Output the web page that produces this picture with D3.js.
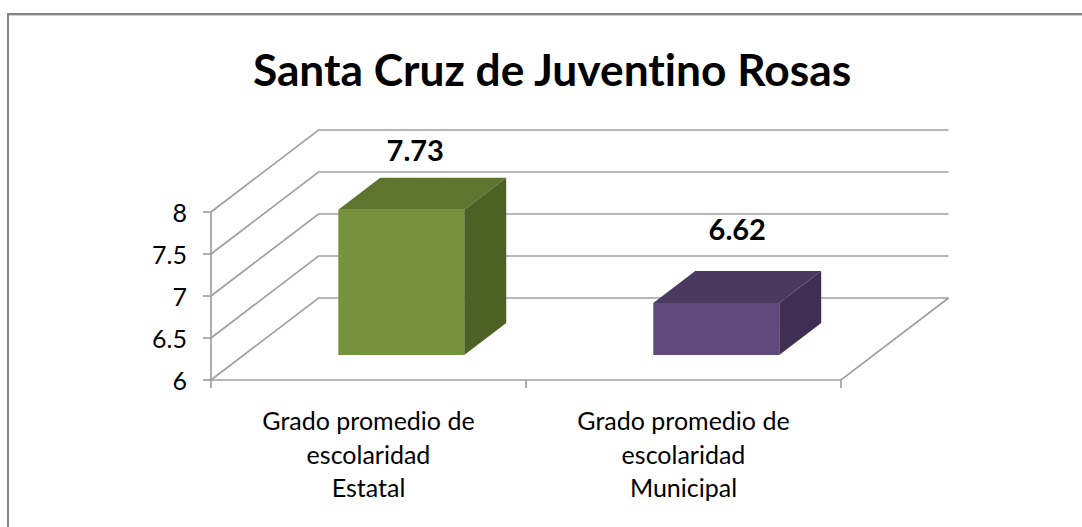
<!DOCTYPE html>
<html>
<head>
<meta charset="utf-8">
<script src="https://cdn.jsdelivr.net/npm/d3@7"></script>
<style>
  html, body { margin: 0; padding: 0; background: #fff; }
  svg { display: block; }
  text { font-family: Lato, "Open Sans", sans-serif; fill: #000; font-variant-ligatures: none; }
</style>
</head>
<body>
<div id="chart"></div>
<script>
const title = "Santa Cruz de Juventino Rosas";
const categories = ["Estatal", "Municipal"];
const categoryLines = ["Grado promedio de", "escolaridad"];
const values = [7.73, 6.62];
const yTicks = [6, 6.5, 7, 7.5, 8];
const frontColors = ["#76923c", "#604a7b"];
const topColors = ["#5e742f", "#4a3a5f"];
const sideColors = ["#4d6125", "#3f3053"];

const svg = d3.select("#chart").append("svg")
    .attr("width", 1082)
    .attr("height", 527);

// outer frame: only the top and left edges show in the picture
svg.append("path")
    .attr("d", d3.line()([[1082, 15.5], [9, 15.5]]))
    .attr("stroke", "#d0d0d0")
    .attr("stroke-width", 1);
svg.append("path")
    .attr("d", d3.line()([[8, 527], [8, 14], [1082, 14]]))
    .attr("fill", "none")
    .attr("stroke", "#858585")
    .attr("stroke-width", 2);

svg.append("text")
    .attr("x", 552)
    .attr("y", 86)
    .attr("text-anchor", "middle")
    .attr("font-size", 44.3)
    .attr("font-weight", 700)
    .text(title);

const xScale = d3.scaleBand().domain(categories).range([211, 841]);
const yScale = d3.scaleLinear().domain([6, 8]).range([380, 212]);
// depth runs from the front of the floor (0) to the back wall (1)
const depthX = d3.scaleLinear().domain([0, 1]).range([0, 107.5]);
const depthY = d3.scaleLinear().domain([0, 1]).range([0, -82]);

function project(x, value, depth){
    return [x + depthX(depth), yScale(value) + depthY(depth)];
}

const line = d3.line();
const grid = svg.append("g")
    .attr("fill", "none")
    .attr("stroke", "#a0a0a0")
    .attr("stroke-width", 1.7);

const [x0, x1] = xScale.range();
yTicks.forEach(function(t){
    grid.append("path").attr("d", line([project(x0, t, 0), project(x0, t, 1), project(x1, t, 1)]));
});
// floor front edge and right side
grid.append("path").attr("d", line([project(x0, 6, 0), project(x1, 6, 0), project(x1, 6, 1)]));
grid.append("path").attr("d", line([project(x0, 6, 0), project(x0, 8, 0)]));

yTicks.forEach(function(t){
    grid.append("path").attr("d", line([[x0 - 8, yScale(t)], [x0, yScale(t)]]));
});
xScale.domain().forEach(function(c){
    const tx = xScale(c);
    grid.append("path").attr("d", line([[tx, 380], [tx, 388]]));
});
grid.append("path").attr("d", line([[x1, 380], [x1, 388]]));

svg.append("g").selectAll("text")
    .data(yTicks)
    .join("text")
    .attr("x", 187)
    .attr("y", d => yScale(d) + 10)
    .attr("text-anchor", "end")
    .attr("font-size", 25)
    .text(d => d);

// bars, 3d box: front, top and right side
const gap = 0.3;
const barLeft = d => xScale(d) + xScale.bandwidth() * gap;
const barRight = d => xScale(d) + xScale.bandwidth() * (1 - gap);
const depthFront = 0.305, depthBack = 0.695;

function face(points){
    return line(points) + "Z";
}

const bars = svg.append("g").selectAll("g")
    .data(categories)
    .join("g");

bars.append("path")
    .attr("fill", (d, i) => frontColors[i])
    .attr("d", (d, i) => face([
        project(barLeft(d), 6, depthFront), project(barRight(d), 6, depthFront),
        project(barRight(d), values[i], depthFront), project(barLeft(d), values[i], depthFront)
    ]));
bars.append("path")
    .attr("fill", (d, i) => topColors[i])
    .attr("d", (d, i) => face([
        project(barLeft(d), values[i], depthFront), project(barRight(d), values[i], depthFront),
        project(barRight(d), values[i], depthBack), project(barLeft(d), values[i], depthBack)
    ]));
bars.append("path")
    .attr("fill", (d, i) => sideColors[i])
    .attr("d", (d, i) => face([
        project(barRight(d), 6, depthFront), project(barRight(d), 6, depthBack),
        project(barRight(d), values[i], depthBack), project(barRight(d), values[i], depthFront)
    ]));

// the value labels were moved by hand in the original, so each has its own nudge
const labelNudge = [[-7, -17], [0, -31]];
bars.append("text")
    .attr("x", (d, i) => (barLeft(d) + barRight(d)) / 2 + depthX(0.5) + labelNudge[i][0])
    .attr("y", (d, i) => project(0, values[i], depthBack)[1] + labelNudge[i][1])
    .attr("text-anchor", "middle")
    .attr("font-size", 29)
    .attr("font-weight", 700)
    .text((d, i) => values[i]);

const labels = svg.append("g").selectAll("text")
    .data(categories)
    .join("text")
    .attr("text-anchor", "middle")
    .attr("font-size", 25);

[...categoryLines, null].forEach(function(txt, n){
    labels.append("tspan")
        .attr("x", d => xScale(d) + xScale.bandwidth() / 2)
        .attr("y", 430 + n * 33.5)
        .text(d => txt === null ? d : txt);
});
</script>
</body>
</html>
